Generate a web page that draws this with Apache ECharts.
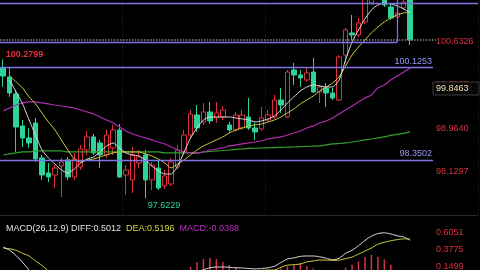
<!DOCTYPE html>
<html>
<head>
<meta charset="utf-8">
<style>
  html, body { margin: 0; padding: 0; background: #000; }
  #chart { width: 480px; height: 270px; }
</style>
</head>
<body>
<div id="chart"></div>
<script src="https://cdn.jsdelivr.net/npm/echarts@6/dist/echarts.min.js"></script>
<script>
// candles: [open, close, low, high]
var candles = [
  [100.118, 99.965, 99.755, 100.2799],
  [99.946, 99.640, 99.564, 100.137],
  [99.621, 98.990, 98.512, 99.697],
  [99.009, 98.780, 98.608, 99.124],
  [98.780, 98.684, 98.589, 98.971],
  [99.066, 98.378, 98.321, 99.162],
  [98.397, 98.072, 97.977, 98.455],
  [98.110, 98.034, 97.938, 98.302],
  [98.072, 98.206, 97.824, 98.263],
  [98.245, 98.321, 97.652, 98.397],
  [98.359, 98.034, 97.977, 98.417],
  [98.034, 98.378, 97.977, 98.493],
  [98.225, 98.569, 98.168, 98.646],
  [98.550, 98.799, 98.455, 98.913],
  [98.799, 98.493, 98.455, 98.856],
  [98.684, 98.455, 98.206, 98.742],
  [98.455, 98.837, 98.397, 98.933],
  [98.589, 98.933, 98.455, 99.028],
  [98.933, 98.034, 98.015, 99.047],
  [98.072, 98.168, 97.690, 98.263],
  [97.977, 98.455, 97.728, 98.608],
  [98.302, 98.417, 98.206, 98.550],
  [98.455, 97.977, 97.6229, 98.550],
  [97.977, 98.263, 97.785, 98.321],
  [98.206, 97.824, 97.785, 98.359],
  [97.862, 98.053, 97.805, 98.168],
  [97.900, 98.321, 97.862, 98.397],
  [98.225, 98.550, 98.168, 98.646],
  [98.512, 98.837, 98.455, 98.933],
  [98.837, 99.238, 98.780, 99.315],
  [99.219, 98.971, 98.895, 99.410],
  [99.086, 99.277, 99.028, 99.449],
  [99.277, 99.105, 99.047, 99.468],
  [99.162, 99.258, 99.066, 99.468],
  [99.181, 99.315, 99.124, 99.391],
  [99.028, 98.933, 98.875, 99.086],
  [98.933, 99.219, 98.895, 99.277],
  [98.971, 99.219, 98.933, 99.315],
  [99.181, 98.971, 98.933, 99.544],
  [98.971, 98.895, 98.742, 99.066],
  [98.952, 99.162, 98.913, 99.372],
  [99.124, 99.219, 99.086, 99.315],
  [99.181, 99.506, 99.143, 99.602],
  [99.506, 99.410, 99.258, 99.736],
  [99.181, 100.041, 99.162, 100.080],
  [100.080, 99.984, 99.793, 100.214],
  [99.984, 99.927, 99.755, 100.080],
  [99.888, 100.022, 99.850, 100.118],
  [100.041, 99.659, 99.640, 100.309],
  [99.659, 99.755, 99.449, 99.793],
  [99.736, 99.640, 99.372, 99.831],
  [99.640, 99.544, 99.506, 99.736],
  [99.506, 100.328, 99.487, 100.366],
  [100.366, 100.845, 100.214, 100.883],
  [100.787, 100.749, 100.653, 101.131],
  [100.749, 100.978, 100.711, 101.074],
  [100.997, 101.514, 100.959, 101.571],
  [101.361, 101.610, 101.323, 101.648],
  [101.457, 101.648, 101.418, 101.705],
  [101.514, 101.323, 101.284, 101.705],
  [101.284, 101.074, 101.036, 101.361],
  [101.093, 101.170, 101.055, 101.227],
  [101.265, 101.380, 101.227, 101.476],
  [101.514, 100.655, 100.558, 101.571]
];

// moving averages
var maWhite = ['-', 99.888, 99.659, 99.430, 99.124, 98.837, 98.550, 98.397, 98.282, 98.168,
  98.110, 98.187, 98.302, 98.378, 98.417, 98.512, 98.627, 98.684, 98.589, 98.493,
  98.455, 98.436, 98.359, 98.244, 98.149, 98.091, 98.091, 98.244, 98.512, 98.780,
  98.971, 99.124, 99.181, 99.181, 99.181, 99.181, 99.162, 99.143, 99.124, 99.086,
  99.105, 99.143, 99.200, 99.315, 99.449, 99.564, 99.678, 99.755, 99.793, 99.774,
  99.755, 99.755, 99.888, 100.271, 100.615, 100.845, 101.055, 101.227, 101.322, 101.361,
  101.342, 101.303, 101.246, 101.170];
var maYellow = ['-', 99.965, 99.850, 99.736, 99.564, 99.430, 99.258, 99.086, 98.933, 98.742,
  98.550, 98.378, 98.321, 98.359, 98.378, 98.417, 98.455, 98.493, 98.512, 98.512,
  98.512, 98.512, 98.474, 98.436, 98.378, 98.302, 98.206, 98.282, 98.359, 98.455,
  98.550, 98.627, 98.684, 98.742, 98.799, 98.875, 98.933, 98.971, 99.009, 99.028,
  99.047, 99.086, 99.124, 99.181, 99.258, 99.334, 99.430, 99.506, 99.582, 99.678,
  99.755, 99.831, 99.946, 100.156, 100.366, 100.519, 100.653, 100.787, 100.902, 100.997,
  101.074, 101.131, 101.170, 101.189];
var maMagenta = [99.296, 99.353, 99.410, 99.449, 99.468, 99.468, 99.449, 99.430, 99.410, 99.391,
  99.372, 99.353, 99.315, 99.277, 99.238, 99.181, 99.124, 99.066, 98.990, 98.913,
  98.856, 98.818, 98.780, 98.742, 98.703, 98.665, 98.608, 98.550, 98.512, 98.493,
  98.493, 98.512, 98.550, 98.569, 98.589, 98.627, 98.646, 98.665, 98.684, 98.703,
  98.722, 98.760, 98.780, 98.799, 98.837, 98.875, 98.913, 98.971, 99.009, 99.066,
  99.105, 99.162, 99.238, 99.315, 99.391, 99.468, 99.544, 99.602, 99.735, 99.793,
  99.888, 99.965, 100.041, 100.118];
var maGreen = [98.454, 98.474, 98.493, 98.512, 98.512, 98.531, 98.531, 98.531, 98.531, 98.531,
  98.512, 98.512, 98.512, 98.512, 98.512, 98.512, 98.512, 98.512, 98.512, 98.512,
  98.512, 98.512, 98.512, 98.512, 98.512, 98.493, 98.493, 98.493, 98.493, 98.493,
  98.493, 98.512, 98.521, 98.531, 98.540, 98.550, 98.560, 98.569, 98.579, 98.583,
  98.588, 98.592, 98.596, 98.600, 98.604, 98.607, 98.613, 98.619, 98.623, 98.627,
  98.646, 98.665, 98.674, 98.684, 98.703, 98.722, 98.742, 98.760, 98.780, 98.799,
  98.828, 98.847, 98.866, 98.895];

// MACD panel
var diff = [0.41, 0.37, 0.30, 0.21, 0.11, 0.02, -0.06, -0.12, -0.17, -0.21,
  -0.24, -0.25, -0.24, -0.22, -0.20, -0.18, -0.16, -0.13, -0.14, -0.15,
  -0.14, -0.13, -0.15, -0.16, -0.16, -0.15, -0.12, -0.07, -0.02, 0.03,
  0.08, 0.115, 0.14, 0.15, 0.15, 0.145, 0.14, 0.137, 0.13, 0.125,
  0.13, 0.14, 0.16, 0.21, 0.255, 0.27, 0.29, 0.295, 0.295, 0.285,
  0.265, 0.245, 0.265, 0.33, 0.37, 0.43, 0.50, 0.555, 0.59, 0.60,
  0.585, 0.56, 0.545, 0.5012];
var dea = [0.40, 0.39, 0.37, 0.33, 0.295, 0.23, 0.17, 0.10, 0.05, 0.0,
  -0.04, -0.08, -0.11, -0.13, -0.14, -0.15, -0.15, -0.15, -0.15, -0.15,
  -0.15, -0.15, -0.15, -0.15, -0.16, -0.16, -0.15, -0.12, -0.07, -0.045,
  -0.028, -0.013, 0.006, 0.022, 0.042, 0.057, 0.065, 0.087, 0.095, 0.10,
  0.105, 0.11, 0.11, 0.145, 0.175, 0.18, 0.19, 0.216, 0.23, 0.242,
  0.24, 0.238, 0.24, 0.26, 0.28, 0.32, 0.36, 0.40, 0.45, 0.475,
  0.495, 0.51, 0.52, 0.5196];
var macd = [0.02, -0.04, -0.14, -0.24, -0.37, -0.42, -0.46, -0.44, -0.44, -0.42,
  -0.40, -0.34, -0.26, -0.18, -0.12, -0.06, -0.02, 0.04, 0.02, 0.00,
  0.02, 0.04, 0.00, -0.02, 0.00, 0.02, 0.06, 0.10, 0.10, 0.15,
  0.216, 0.256, 0.268, 0.256, 0.216, 0.176, 0.15, 0.10, 0.07, 0.05,
  0.05, 0.06, 0.10, 0.13, 0.16, 0.18, 0.20, 0.158, 0.13, 0.086,
  0.05, 0.014, 0.05, 0.14, 0.18, 0.22, 0.28, 0.31, 0.28, 0.25,
  0.18, 0.10, 0.05, -0.0368];

// horizontal levels drawn on the chart
var levelTop = 101.3457;
var levelBox = 100.6094;
var levelA = 100.1253;
var levelB = 98.3502;
var boxIndex = 61;

var red = '#e0303e', green = '#2ed39a', lavender = '#7b76e6';
var font = '"Liberation Sans", Arial, sans-serif';

var slots = [];
for (var i = 0; i < 74; i++) slots.push(String(i));

var lastClose = candles[candles.length - 1][1];
var fix4 = function(v) { return v.toFixed(4); };

var chart = echarts.init(document.getElementById('chart'));

function levelLine(v, endX, showLabel) {
  return [
    { coord: [0, v], x: 0, lineStyle: { color: lavender, width: 1.3, type: 'solid' },
      label: { show: showLabel, position: 'insideEndTop', formatter: fix4(v), color: '#9a98f4', fontSize: 9, fontFamily: font, distance: [1, 2] } },
    { coord: [0, v], x: endX }
  ];
}

chart.setOption({
  backgroundColor: '#000',
  animation: false,
  textStyle: { fontFamily: font },
  title: {
    left: 1, top: 219,
    text: '{w|MACD(26,12,9) DIFF:' + fix4(diff[diff.length - 1]) + '}  {y|DEA:' + fix4(dea[dea.length - 1]) + '}  {m|MACD:' + fix4(macd[macd.length - 1]) + '}',
    textStyle: {
      fontSize: 9, fontWeight: 'normal',
      rich: {
        w: { color: '#e4e4e4', fontSize: 9, fontFamily: font },
        y: { color: '#d8d63c', fontSize: 9, fontFamily: font },
        m: { color: '#c52fc5', fontSize: 9, fontFamily: font }
      }
    }
  },
  grid: [
    { left: 0, right: 2, top: -2.6, height: 218.2, outerBoundsMode: 'none' },
    { left: 0, right: 2, top: 215.1, height: 86.5, outerBoundsMode: 'none' }
  ],
  xAxis: [
    { type: 'category', gridIndex: 0, data: slots, boundaryGap: true,
      axisLine: { show: true, lineStyle: { color: '#262626' } },
      axisTick: { show: false }, axisLabel: { show: false },
      splitLine: { show: true, interval: function(idx) { return idx === 19 || idx === 41; },
        lineStyle: { color: '#151515', type: 'dashed' } } },
    { type: 'category', gridIndex: 1, data: slots, boundaryGap: true, show: false }
  ],
  yAxis: [
    { type: 'value', gridIndex: 0, position: 'right', min: 97.2954, max: 101.4669, interval: 0.8343,
      axisLine: { show: false }, axisTick: { show: false }, splitLine: { show: false },
      axisLabel: { inside: true, align: 'left', margin: 42, color: red, fontSize: 9, fontFamily: font,
        showMinLabel: false, showMaxLabel: false, formatter: fix4 } },
    { type: 'value', gridIndex: 1, position: 'right', min: -0.3053, max: 0.8327, interval: 0.2276,
      axisLine: { show: false }, axisTick: { show: false }, splitLine: { show: false },
      axisLabel: { inside: true, align: 'left', margin: 42, color: red, fontSize: 9, fontFamily: font,
        showMinLabel: false, showMaxLabel: false, formatter: fix4 } }
  ],
  series: [
    {
      type: 'candlestick', xAxisIndex: 0, yAxisIndex: 0, data: candles, barWidth: 5, clip: true,
      itemStyle: { color: '#000', color0: green, borderColor: red, borderColor0: green, borderWidth: 1 },
      markLine: {
        silent: true, symbol: 'none', animation: false,
        data: [
          { yAxis: levelTop, lineStyle: { color: lavender, width: 1.3, type: 'solid' },
            label: { show: true, position: 'insideEndTop', formatter: fix4(levelTop), color: '#9a98f4', fontSize: 9, fontFamily: font, distance: [4, 2] } },
          [{ coord: [0, levelBox], x: 0, lineStyle: { color: lavender, width: 1.3, type: 'solid' }, label: { show: false } },
           { coord: [boxIndex, levelBox] }],
          [{ coord: [boxIndex, levelBox], lineStyle: { color: lavender, width: 1.3, type: 'solid' }, label: { show: false } },
           { coord: [boxIndex, 101.4669] }],
          [{ coord: [0, lastClose], x: 0, lineStyle: { color: '#8c8c8c', width: 1.5, type: [1.5, 1.5] }, label: { show: false } },
           { coord: [0, lastClose], x: 436 }],
          levelLine(levelA, 433, true),
          levelLine(levelB, 433, true)
        ]
      },
      markPoint: {
        silent: true, animation: false, symbol: 'circle', symbolSize: 1,
        itemStyle: { color: 'rgba(0,0,0,0)' },
        data: [
          { coord: [0, candles[0][3]],
            label: { show: true, formatter: fix4(candles[0][3]), position: [3, -9], color: red, fontSize: 9, fontWeight: 'bold', fontFamily: font } },
          { coord: [22, candles[22][2]],
            label: { show: true, formatter: fix4(candles[22][2]), position: [3, 3], color: green, fontSize: 9, fontFamily: font } }
        ]
      }
    },
    { type: 'line', xAxisIndex: 0, yAxisIndex: 0, data: maGreen, symbol: 'none', smooth: 0.2,
      lineStyle: { color: '#35a02c', width: 1.2 } },
    { type: 'line', xAxisIndex: 0, yAxisIndex: 0, data: maMagenta, symbol: 'none', smooth: 0.2,
      lineStyle: { color: '#b02cb0', width: 1.2 } },
    { type: 'line', xAxisIndex: 0, yAxisIndex: 0, data: maYellow, symbol: 'none', smooth: 0.2,
      lineStyle: { color: '#d2d03a', width: 1 } },
    { type: 'line', xAxisIndex: 0, yAxisIndex: 0, data: maWhite, symbol: 'none', smooth: 0.2,
      lineStyle: { color: '#dcdcdc', width: 1 } },
    { type: 'bar', xAxisIndex: 1, yAxisIndex: 1, data: macd, barWidth: 1.5,
      itemStyle: { color: function(p) { return p.value >= 0 ? '#d8324a' : green; } } },
    { type: 'line', xAxisIndex: 1, yAxisIndex: 1, data: dea, symbol: 'none', smooth: 0.2,
      lineStyle: { color: '#d2d03a', width: 1 } },
    { type: 'line', xAxisIndex: 1, yAxisIndex: 1, data: diff, symbol: 'none', smooth: 0.2,
      lineStyle: { color: '#dcdcdc', width: 1 } }
  ],
  graphic: [
    { type: 'rect', z: 100, shape: { x: 433, y: 82, width: 46, height: 13 },
      style: { fill: '#080808', stroke: '#3c3c3c', lineWidth: 1 } },
    { type: 'text', z: 101, x: 436, y: 88.5,
      style: { text: '99.8463', fill: '#efe2b0', fontSize: 9, fontFamily: font, verticalAlign: 'middle' } }
  ]
});
</script>
</body>
</html>
